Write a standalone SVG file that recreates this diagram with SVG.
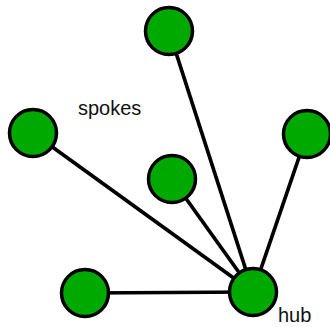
<svg xmlns="http://www.w3.org/2000/svg" width="330" height="327" viewBox="0 0 330 327">
  <style>
    .node { fill: #00a900; stroke: #000; stroke-width: 3.5; }
    .edge { stroke: #000; stroke-width: 3.7; fill: none; }
    .label { font-family: "Liberation Sans", Arial, sans-serif; font-size: 20px; fill: #111; }
  </style>
  <rect width="330" height="327" fill="#fff"/>
  <g id="edges">
    <line class="edge" x1="169" y1="31" x2="253" y2="292"/>
    <line class="edge" x1="33" y1="133" x2="253" y2="292"/>
    <line class="edge" x1="172" y1="179" x2="253" y2="292"/>
    <line class="edge" x1="307" y1="134" x2="253" y2="292"/>
    <line class="edge" x1="85" y1="293" x2="253" y2="292"/>
  </g>
  <g id="node-top"><circle class="node" cx="169" cy="31" r="23.5"/></g>
  <g id="node-left"><circle class="node" cx="33" cy="133" r="23.5"/></g>
  <g id="node-middle"><circle class="node" cx="172" cy="179" r="23.5"/></g>
  <g id="node-right"><circle class="node" cx="307" cy="134" r="23.5"/></g>
  <g id="node-bottom"><circle class="node" cx="85" cy="293" r="23.5"/></g>
  <g id="node-hub"><circle class="node" cx="253" cy="292" r="23.5"/></g>
  <text class="label" x="78" y="115">spokes</text>
  <text class="label" x="278" y="322">hub</text>
</svg>
